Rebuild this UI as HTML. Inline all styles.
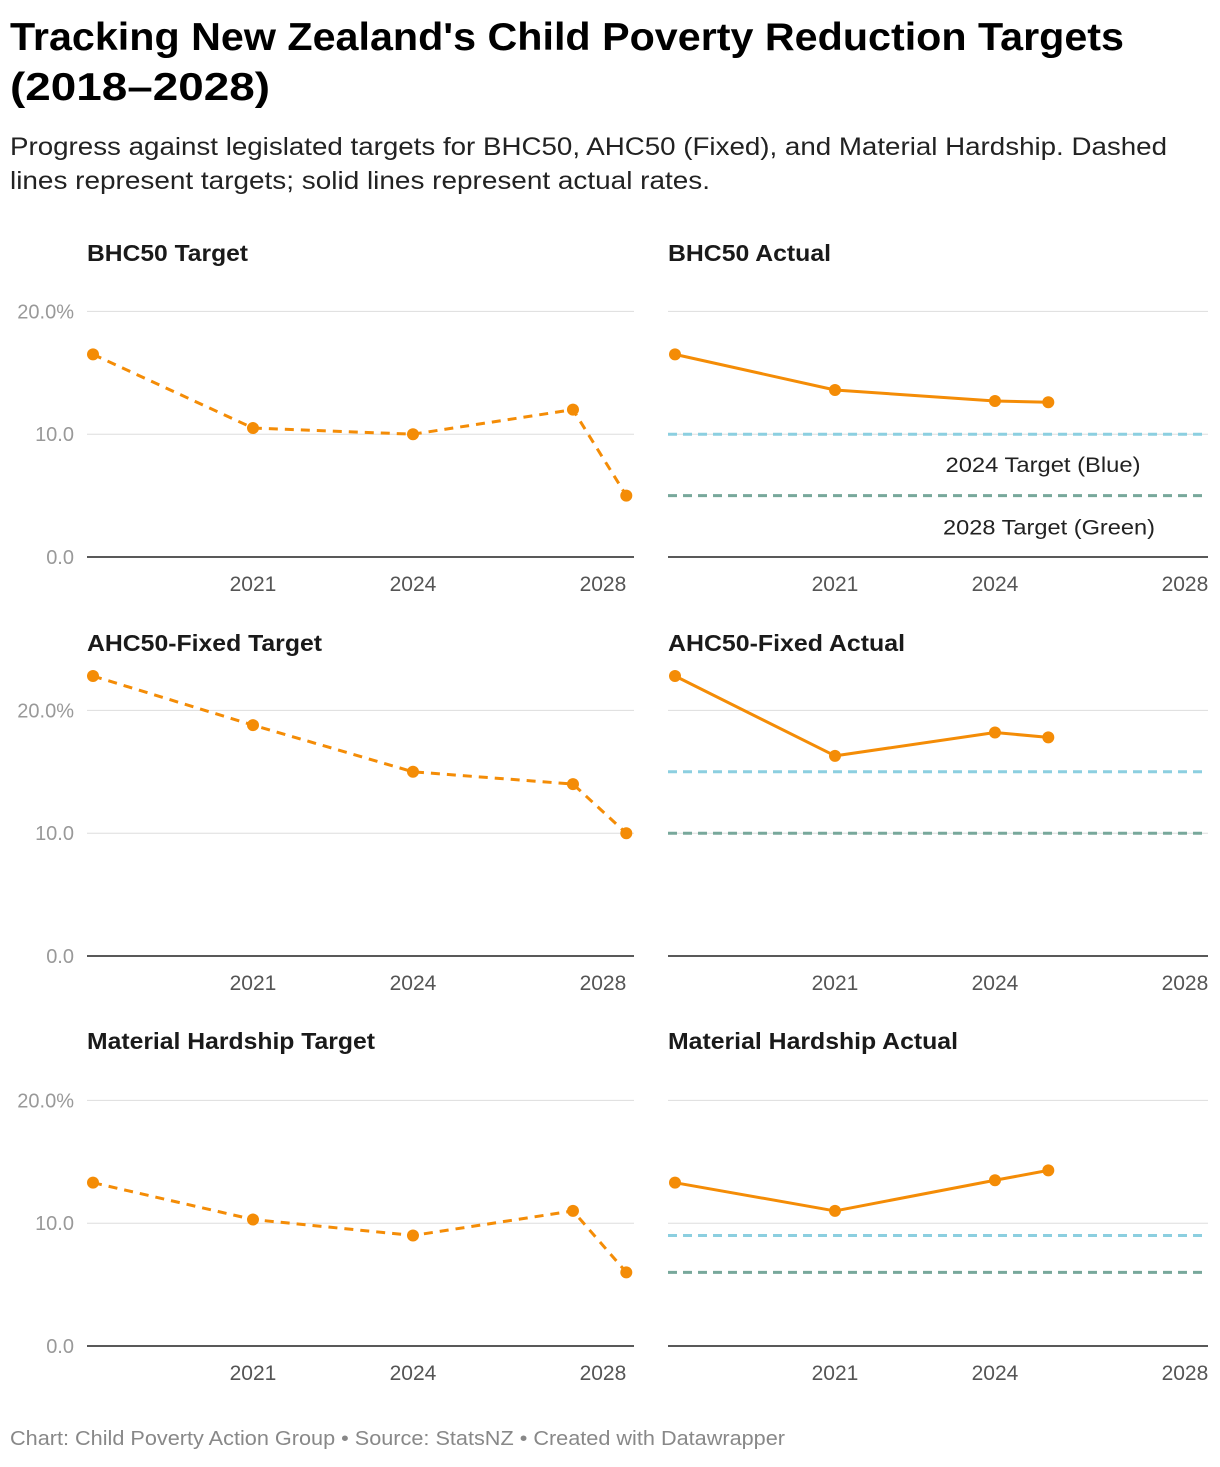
<!DOCTYPE html>
<html><head><meta charset="utf-8"><style>
body{margin:0;background:#fff;width:1220px;height:1462px;overflow:hidden;font-family:"Liberation Sans",Arial,sans-serif;}
svg text{font-family:"Liberation Sans",Arial,sans-serif;}
</style></head><body>
<svg id="chart" width="1220" height="1462" xmlns="http://www.w3.org/2000/svg">
<text x="10" y="50" font-size="39" font-weight="bold" fill="#000" textLength="1114" lengthAdjust="spacingAndGlyphs">Tracking New Zealand's Child Poverty Reduction Targets</text>
<text x="10" y="100" font-size="39" font-weight="bold" fill="#000" textLength="260" lengthAdjust="spacingAndGlyphs">(2018–2028)</text>
<text x="10" y="155" font-size="25" fill="#222" textLength="1157" lengthAdjust="spacingAndGlyphs">Progress against legislated targets for BHC50, AHC50 (Fixed), and Material Hardship. Dashed</text>
<text x="10" y="189" font-size="25" fill="#222" textLength="700" lengthAdjust="spacingAndGlyphs">lines represent targets; solid lines represent actual rates.</text>
<text x="10" y="1445" font-size="20" fill="#888" textLength="775" lengthAdjust="spacingAndGlyphs">Chart: Child Poverty Action Group • Source: StatsNZ • Created with Datawrapper</text>
<g id="panels"></g>
</svg>
<script>
const panelTitles = ["BHC50","AHC50-Fixed","Material Hardship"];
const targetYears = [2018,2021,2024,2027,2028];
const actualYears = [2018,2021,2024,2025];
const bhcTarget = [16.5,10.5,10,12,5];
const bhcActual = [16.5,13.6,12.7,12.6];
const ahcTarget = [22.8,18.8,15,14,10];
const ahcActual = [22.8,16.3,18.2,17.8];
const mhTarget = [13.3,10.3,9,11,6];
const mhActual = [13.3,11,13.5,14.3];
const blueTargets = [10,15,9];
const greenTargets = [5,10,6];
const yTicks = [0,10,20];
const yTickLabels = ["0.0","10.0","20.0%"];
const xTicks = [2021,2024,2028];

const targets=[bhcTarget,ahcTarget,mhTarget], actuals=[bhcActual,ahcActual,mhActual];
const titleLens=[[161,163],[235,237],[288,290]];
const NS="http://www.w3.org/2000/svg", root=document.getElementById('panels');
const ORANGE="#f48c06", BLUE="#8ccfe0", GREEN="#78a89b";
const baselines=[557,956,1346];
function mk(tag,attrs,parent){const e=document.createElementNS(NS,tag);for(const k in attrs)e.setAttribute(k,attrs[k]);(parent||root).appendChild(e);return e;}
for(let r=0;r<3;r++){
  const base=baselines[r];
  const yS=v=>base-v*12.28;
  for(let c=0;c<2;c++){
    const x0=c?668:87, x1=c?1208:634;
    const xS=yr=>(c?675:93)+(yr-2018)*53.33;
    const g=mk('g',{});
    
    
    const t=mk('text',{x:x0,y:[261,651,1049][r],'font-size':23,'font-weight':'bold',fill:'#1a1a1a'},g);
    t.textContent=panelTitles[r]+(c?' Actual':' Target');
    t.setAttribute('textLength',titleLens[r][c]);
    t.setAttribute('lengthAdjust','spacingAndGlyphs');
    
    
    yTicks.forEach((v,i)=>{
      const l=mk('line',{x1:x0,x2:x1,y1:yS(v),y2:yS(v),stroke:v===0?'#222':'#ddd','stroke-width':v===0?1.5:1},g);
      
      
      if(!c){const tl=mk('text',{x:74,y:yS(v)+7,'font-size':20,fill:'#999','text-anchor':'end'},g);tl.textContent=yTickLabels[i];
        
        }
    });
    xTicks.forEach(yr=>{
      const xl=mk('text',{x:xS(yr),y:base+34,'font-size':21,fill:'#555','text-anchor':yr===2028?'end':'middle'},g);
      xl.textContent=yr;
      
      
    });
    let yrs, vals;
    if(c){
      [[blueTargets[r],BLUE,'2024-target-line'],[greenTargets[r],GREEN,'2028-target-line']].forEach(([v,col,n])=>{
        const l=mk('line',{x1:x0,x2:x1,y1:yS(v),y2:yS(v),stroke:col,'stroke-width':3,'stroke-dasharray':'9,6'},g);
        
        
      });
      if(r===0){
        const a=mk('text',{x:1043,y:yS(blueTargets[r])+38,'font-size':21,fill:'#222','text-anchor':'middle',textLength:195,lengthAdjust:'spacingAndGlyphs'},g);a.textContent='2024 Target (Blue)';
        
        
        const b=mk('text',{x:1049,y:yS(greenTargets[r])+39,'font-size':21,fill:'#222','text-anchor':'middle',textLength:212,lengthAdjust:'spacingAndGlyphs'},g);b.textContent='2028 Target (Green)';
        
        
      }
      yrs=actualYears; vals=actuals[r];
    } else {yrs=targetYears; vals=targets[r];}
    const pts=vals.map((v,i)=>xS(yrs[i])+','+yS(v)).join(' ');
    const pl=mk('polyline',{points:pts,fill:'none',stroke:ORANGE,'stroke-width':3,'stroke-linejoin':'round'},g);
    if(!c)pl.setAttribute('stroke-dasharray','9,7');
    
    
    vals.forEach((v,i)=>{
      const d=mk('circle',{cx:xS(yrs[i]),cy:yS(v),r:6,fill:ORANGE},g);
      
      
    });
  }
}
</script>
</body></html>
